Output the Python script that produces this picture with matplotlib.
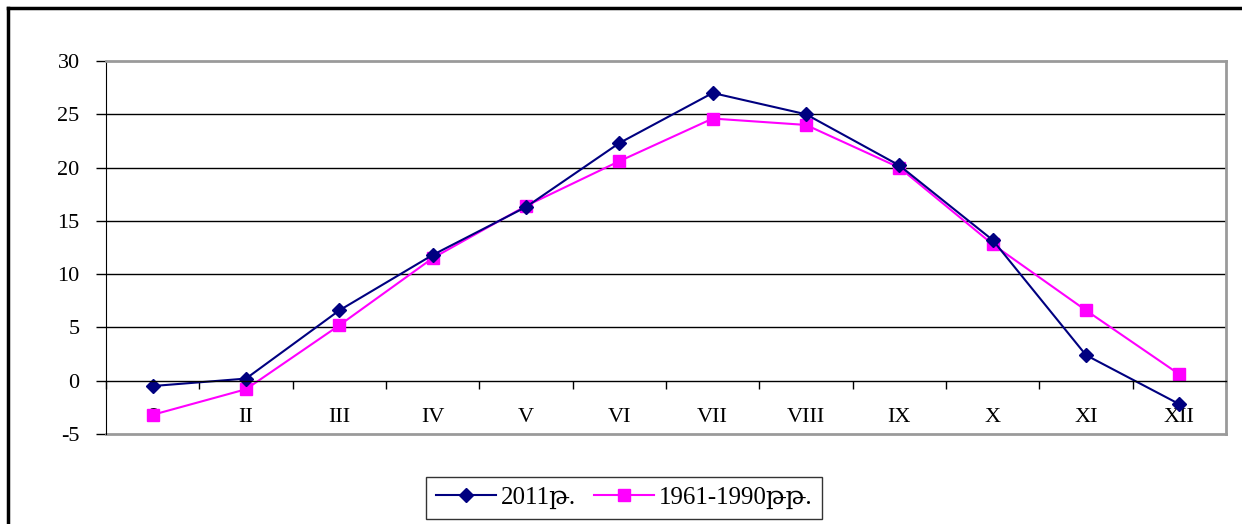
import matplotlib.pyplot as plt
from matplotlib.lines import Line2D

# month labels and monthly temperatures
months = ['I', 'II', 'III', 'IV', 'V', 'VI', 'VII', 'VIII', 'IX', 'X', 'XI', 'XII']
temp_2011 = [-0.5, 0.2, 6.6, 11.8, 16.3, 22.3, 27.0, 25.0, 20.2, 13.2, 2.4, -2.2]
temp_norm = [-3.2, -0.8, 5.2, 11.5, 16.4, 20.6, 24.6, 24.0, 20.0, 12.8, 6.6, 0.6]
labels = ['2011թ.', '1961-1990թթ.']

plt.rcParams['font.family'] = ['Liberation Serif', 'DejaVu Serif']
plt.rcParams['axes.unicode_minus'] = False

W, H = 1242, 524
fig = plt.figure(figsize=(W / 100, H / 100), dpi=100)
ax = fig.add_axes([106 / W, 1 - 434 / H, 1120 / W, 373 / H])

x = list(range(len(months)))
l1, = ax.plot(x, temp_2011, color='#000080', lw=1.5, marker='D', ms=7, label=labels[0], zorder=2.2)
l2, = ax.plot(x, temp_norm, color='#ff00ff', lw=1.5, marker='s', ms=8, label=labels[1], zorder=2.1)

ax.set_xlim(-0.5, 11.5)
ax.set_ylim(-5, 30)
ax.set_yticks(range(-5, 31, 5))
for v in range(5, 30, 5):
    ax.axhline(v, color='black', lw=1, zorder=1)

# x axis drawn through zero, ticks between categories
ax.spines['bottom'].set_position(('data', 0))
ax.spines['bottom'].set_color('black')
ax.spines['bottom'].set_linewidth(1)
ax.set_xticks([i + 0.5 for i in range(-1, 12)], minor=True)
ax.set_xticks(x)
ax.set_xticklabels(months, fontsize=16)
ax.tick_params(axis='x', which='major', length=0, pad=20)
ax.tick_params(axis='x', which='minor', length=6, direction='out', width=1)
ax.tick_params(axis='y', length=7, width=1, labelsize=16, pad=12)

ax.spines['left'].set_color('black')
for s in ['top', 'right']:
    ax.spines[s].set_color('#9a9a9a')
    ax.spines[s].set_linewidth(2)
# gray frame along the bottom of plot area
ax.plot([0, 1], [0, 0], transform=ax.transAxes, color='#9a9a9a', lw=2, clip_on=False)

leg = fig.legend(handles=[l1, l2], loc='center', bbox_to_anchor=(624 / W, 1 - 498 / H),
                 ncol=2, frameon=True, fancybox=False, edgecolor='black', fontsize=18,
                 handlelength=2.4, columnspacing=0.7, handletextpad=0.2, borderpad=0.4)
leg.get_frame().set_linewidth(1)

# outer chart frame (only top and left visible)
fig.add_artist(Line2D([8 / W, 1], [1 - 8 / H, 1 - 8 / H], color='black', lw=2.5, transform=fig.transFigure))
fig.add_artist(Line2D([8 / W, 8 / W], [0, 1 - 8 / H], color='black', lw=2.5, transform=fig.transFigure))

fig.savefig('out.png', dpi=100)
